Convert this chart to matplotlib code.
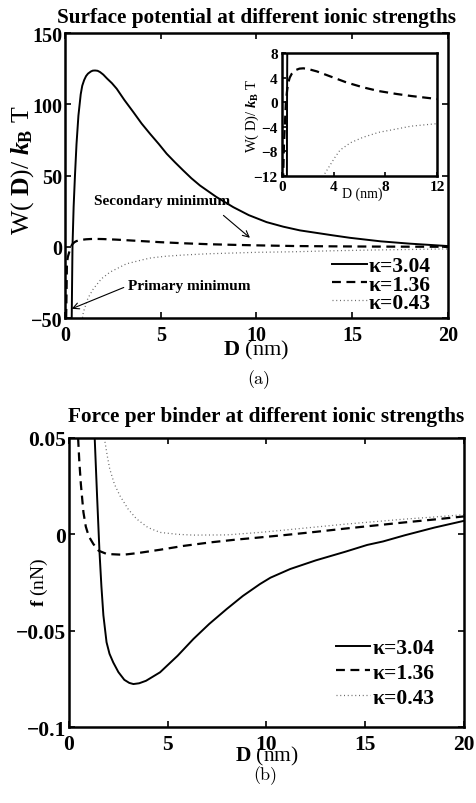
import matplotlib
matplotlib.use("Agg")
import matplotlib.pyplot as plt
from matplotlib.ticker import FixedLocator, FixedFormatter

plt.rcParams['font.family'] = ['Liberation Serif', 'DejaVu Serif']
plt.rcParams['font.weight'] = 'bold'
plt.rcParams['mathtext.fontset'] = 'custom'
plt.rcParams['mathtext.rm'] = 'Liberation Serif'
plt.rcParams['mathtext.it'] = 'Liberation Serif:italic'
plt.rcParams['mathtext.bf'] = 'Liberation Serif:bold'

# ---- (a) surface potential W(D)/kBT ----
Da_304 = [0.30, 0.35, 0.39, 0.45, 0.52, 0.60, 0.70, 0.82, 0.90, 1.00, 1.10, 1.20, 1.35, 1.45,
          1.57, 1.70, 1.83, 2.00, 2.20, 2.45, 2.70, 3.10, 3.57, 4.00, 4.44, 4.90, 5.31,
          5.75, 6.18, 6.60, 7.05, 7.90, 8.79, 9.60, 10.53, 11.4, 12.27, 14.0, 14.88,
          16.5, 18.0, 20.0]
Wa_304 = [-60, -50, 0, 28, 50, 72, 92, 107, 113, 117, 119.8, 121.5, 123.0, 123.6,
          123.7, 123.5, 122.6, 120.8, 118, 114.8, 110.9, 103, 94.5, 86.5, 79.3, 72.1, 65.3,
          59.2, 53.5, 48.1, 43, 35, 27.8, 22.2, 17.3, 14.1, 11.5, 8.0, 6.3,
          3.8, 2.2, 0.5]

Da_136 = [0.05, 0.10, 0.15, 0.23, 0.30, 0.40, 0.49, 0.60, 0.75, 0.88, 1.10, 1.35, 1.65,
          2.00, 2.70, 3.72, 5.00, 6.29, 7.50, 8.87, 10.0, 11.97, 14.0, 16.0, 18.0, 20.0]
Wa_136 = [-60, -11.4, -7.0, -3.3, 0.0, 2.0, 3.2, 4.0, 4.6, 4.9, 5.25, 5.45, 5.5,
          5.4, 5.0, 4.2, 3.2, 2.4, 1.8, 1.33, 1.0, 0.52, 0.3, 0.15, 0.05, 0.0]

Da_043 = [0.85, 0.96, 1.20, 1.48, 1.90, 2.35, 3.20, 4.09, 4.49, 5.30, 6.29, 7.50, 8.87,
          10.0, 11.97, 14.0, 16.0, 18.0, 20.0]
Wa_043 = [-55, -45.8, -36, -29.5, -22.5, -17.8, -12.0, -9.0, -7.8, -6.6, -5.7, -4.9, -4.36,
          -3.9, -3.5, -2.8, -2.3, -1.9, -1.5]

# ---- (b) force per binder f (nN) ----
Db_304 = [1.30, 1.42, 1.54, 1.64, 1.74, 1.90, 2.05, 2.24, 2.50, 2.80, 3.05, 3.26, 3.55, 3.90,
          4.61, 5.50, 6.30, 7.10, 7.98, 8.80, 9.67, 10.2, 11.2, 12.5, 14.0, 15.1, 15.9,
          17.0, 18.5, 20.0]
fb_304 = [0.05, 0.02, -0.0085, -0.027, -0.042, -0.056, -0.062, -0.0665, -0.0715, -0.0755,
          -0.0771, -0.0777, -0.0773, -0.0760, -0.0716, -0.0630, -0.0543, -0.0465, -0.0388,
          -0.032, -0.0258, -0.0225, -0.018, -0.0135, -0.0090, -0.0055, -0.0037, -0.0005,
          0.0035, 0.0070]

Db_136 = [0.46, 0.52, 0.60, 0.73, 0.85, 1.00, 1.23, 1.50, 1.91, 2.75, 3.50, 4.61, 5.80,
          7.14, 8.40, 9.67, 11.0, 12.5, 14.0, 15.5, 17.0, 18.5, 20.0]
fb_136 = [0.05, 0.038, 0.026, 0.0114, 0.004, -0.001, -0.005, -0.0085, -0.0102, -0.0106,
          -0.0097, -0.008, -0.006, -0.0042, -0.0028, -0.0016, -0.0003, 0.0013, 0.003,
          0.0046, 0.0062, 0.0077, 0.0093]

Db_043 = [1.82, 1.95, 2.06, 2.30, 2.58, 3.00, 3.42, 4.00, 4.61, 5.50, 6.30, 7.98, 9.67,
          11.0, 12.5, 14.0, 15.5, 17.0, 18.5, 20.0]
fb_043 = [0.048, 0.040, 0.034, 0.026, 0.020, 0.013, 0.008, 0.0035, 0.001, 0.0, -0.0004,
          -0.0003, 0.001, 0.0023, 0.0038, 0.0053, 0.0066, 0.0079, 0.009, 0.0102]

labels = [u'\u03ba=3.04', u'\u03ba=1.36', u'\u03ba=0.43']

xticks_main = [0, 5, 10, 15, 20]
yticks_a = [-50, 0, 50, 100, 150]
yticks_b = [-0.1, -0.05, 0, 0.05]
yticklabels_b = [u'\u22120.1', u'\u22120.05', '0', '0.05']
xticks_in = [0, 4, 8, 12]
yticks_in = [-12, -8, -4, 0, 4, 8]

solid = dict(color='black', lw=1.4, ls='-')
dash = dict(color='black', lw=1.6, dashes=(4.0, 2.5))
dot = dict(color='0.4', lw=0.9, dashes=(0.8, 2.2))


def style_axes(ax, size, pad=5):
    for s in ax.spines.values():
        s.set_linewidth(1.8)
    ax.tick_params(direction='in', top=True, right=True, length=4, width=1.2,
                   labelsize=size, pad=pad)


fig = plt.figure(figsize=(4.77, 8.04), dpi=100)

# top panel
ax1 = fig.add_axes([0.1363, 0.6032, 0.8026, 0.3545])
ax1.plot(Da_304, Wa_304, label=labels[0], **solid)
ax1.plot(Da_136, Wa_136, label=labels[1], **dash)
ax1.plot(Da_043, Wa_043, label=labels[2], **dot)
ax1.set_xlim(0, 20)
ax1.set_ylim(-50, 150)
ax1.xaxis.set_major_locator(FixedLocator(xticks_main))
ax1.yaxis.set_major_locator(FixedLocator(yticks_a))
style_axes(ax1, 14.5)
ax1.tick_params(axis='y', pad=2)
ax1.set_title('Surface potential at different ionic strengths', fontsize=15.3,
              fontweight='bold', pad=8)
ax1.set_xlabel(r'$\mathbf{D}$ (nm)', fontsize=16, fontweight='normal', labelpad=-5)
ax1.set_ylabel(r'W( $\mathbf{D}$)/ $k_{\rm B}$ T', fontsize=18.5, fontweight='normal')
ax1.yaxis.set_label_coords(-0.075, 0.523)
ax1.legend(loc='lower right', bbox_to_anchor=(0.995, -0.035), frameon=False, fontsize=15.5,
           handlelength=1.6, handletextpad=0.1, labelspacing=-0.08, borderaxespad=0.3)
ax1.annotate('Secondary minimum', xy=(9.66, 6.3), xytext=(5.07, 32.3),
             ha='center', va='center', fontsize=11,
             arrowprops=dict(arrowstyle='->', lw=0.8, color='black', shrinkA=6, shrinkB=0,
                             relpos=(0.88, 0.0)))
ax1.annotate('Primary minimum', xy=(0.35, -43.5), xytext=(6.48, -27.4),
             ha='center', va='center', fontsize=11,
             arrowprops=dict(arrowstyle='->', lw=0.8, color='black', shrinkA=1, shrinkB=0,
                             relpos=(0.0, 0.5)))

# inset
ax_in = fig.add_axes([0.5912, 0.7799, 0.325, 0.153])
ax_in.plot(Da_304, Wa_304, **solid)
ax_in.plot(Da_136, Wa_136, **dash)
ax_in.plot(Da_043, Wa_043, **dot)
ax_in.set_xlim(0, 12)
ax_in.set_ylim(-12, 8)
ax_in.xaxis.set_major_locator(FixedLocator(xticks_in))
ax_in.yaxis.set_major_locator(FixedLocator(yticks_in))
style_axes(ax_in, 11, pad=3)
ax_in.tick_params(top=False, right=False, length=3)
ax_in.set_xlabel('D (nm)', fontsize=10)
ax_in.xaxis.set_label_coords(0.52, -0.087)
ax_in.set_ylabel(r'W( D)/ $\mathbf{\mathit{k}}_{\rm\mathbf{B}}$ T', fontsize=10.5)
ax_in.yaxis.set_label_coords(-0.135, 0.5)

fig.text(0.543, 0.528, '(a)', fontsize=13, family='cmr10', fontweight='normal',
         ha='center', va='center')

# bottom panel
ax2 = fig.add_axes([0.1447, 0.0945, 0.828, 0.3595])
ax2.plot(Db_304, fb_304, label=labels[0], **solid)
ax2.plot(Db_136, fb_136, label=labels[1], **dash)
ax2.plot(Db_043, fb_043, label=labels[2], **dot)
ax2.set_xlim(0, 20)
ax2.set_ylim(-0.1, 0.05)
ax2.xaxis.set_major_locator(FixedLocator(xticks_main))
ax2.yaxis.set_major_locator(FixedLocator(yticks_b))
ax2.yaxis.set_major_formatter(FixedFormatter(yticklabels_b))
style_axes(ax2, 15.5)
ax2.tick_params(axis='y', pad=2)
ax2.set_title('Force per binder at different ionic strengths', fontsize=15.3,
              fontweight='bold', pad=12)
ax2.set_xlabel(r'$\mathbf{D}$ (nm)', fontsize=15.5, fontweight='normal', labelpad=-7)
ax2.set_ylabel(r'$\mathbf{f}$ (nN)', fontsize=14, fontweight='normal')
ax2.yaxis.set_label_coords(-0.048, 0.505)
ax2.legend(loc='lower right', bbox_to_anchor=(0.985, -0.015), frameon=False, fontsize=15.5,
           handlelength=1.6, handletextpad=0.1, labelspacing=0.22, borderaxespad=0.7)

fig.text(0.557, 0.035, '(b)', fontsize=13, family='cmr10', fontweight='normal',
         ha='center', va='center')

fig.savefig('out.png', dpi=100)
